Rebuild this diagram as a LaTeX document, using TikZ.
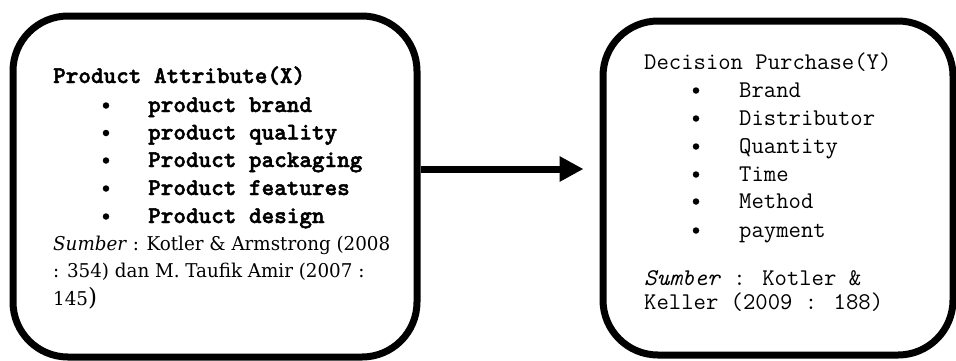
\documentclass[tikz,border=0pt]{standalone}
\usepackage{fontspec}
\setmainfont{Liberation Serif}
\newfontfamily\sumfont[FakeStretch=1.07]{DejaVu Serif Condensed}
\newfontfamily\bmono[FakeBold=2]{lmmonolt10-bold.otf}
\usetikzlibrary{arrows.meta}
\tikzset{
  box/.style={draw, line width=7pt, rounded corners=55pt, inner sep=0pt},
  txt/.style={anchor=base west, inner sep=0pt, font=\ttfamily\fontsize{24}{24}\selectfont},
  btxt/.style={anchor=base west, inner sep=0pt, font=\bmono\fontsize{24}{24}\selectfont},
  stxt/.style={anchor=base west, inner sep=0pt, font=\sumfont\fontsize{19}{19}\selectfont},
  dot/.style={fill=black, draw=none, circle, inner sep=0pt, minimum size=6.5pt},
  link/.style={line width=7pt, -{Triangle[length=24pt,width=24pt]}}
}
\begin{document}
\begin{tikzpicture}[x=1pt,y=-1pt]
\useasboundingbox (0,0) rectangle (956,360);
\node[box, minimum width=404pt, minimum height=341pt] (b1) at (215,186.5) {};
\node[box, minimum width=350pt, minimum height=334pt] (b2) at (778,188) {};
% left box text
\node[btxt] (t1) at (53,83) {Product Attribute(X)};
\node[btxt] (i1) at (148,112) {product brand};
\node[btxt] (i2) at (148,139.5) {product quality};
\node[btxt] (i3) at (148,167) {Product packaging};
\node[btxt] (i4) at (148,195) {Product features};
\node[btxt] (i5) at (148,223) {Product design};
\foreach \y [count=\k] in {112,139.5,167,195,223} \node[dot] (d\k) at (106,\y-6.5) {};
\node[stxt] (s1) at (53,250) {\textit{Sumber} : Kotler \& Armstrong (2008};
\node[stxt] (s2) at (53,277) {: 354) dan M. Taufik Amir (2007 :};
\node[stxt] (s3) at (53,305) {145{\fontsize{24}{24}\selectfont)}};
% right box text
\node[txt] (u1) at (644,69) {Decision Purchase(Y)};
\node[txt] (j1) at (739,97) {Brand};
\node[txt] (j2) at (739,125) {Distributor};
\node[txt] (j3) at (739,153) {Quantity};
\node[txt] (j4) at (739,181) {Time};
\node[txt] (j5) at (739,208) {Method};
\node[txt] (j6) at (739,237) {payment};
\foreach \y [count=\k] in {97,125,153,181,208,237} \node[dot] (e\k) at (696,\y-6.5) {};
\node[txt] (r1) at (644,285) {\textit{Sumber} : Kotler \&};
\node[txt] (r2) at (644,309) {Keller (2009 : 188)};
% arrow
\draw[link, shorten >=16pt] (b1.east |- 0,169) -- (b2.west |- 0,169);
\end{tikzpicture}
\end{document}
